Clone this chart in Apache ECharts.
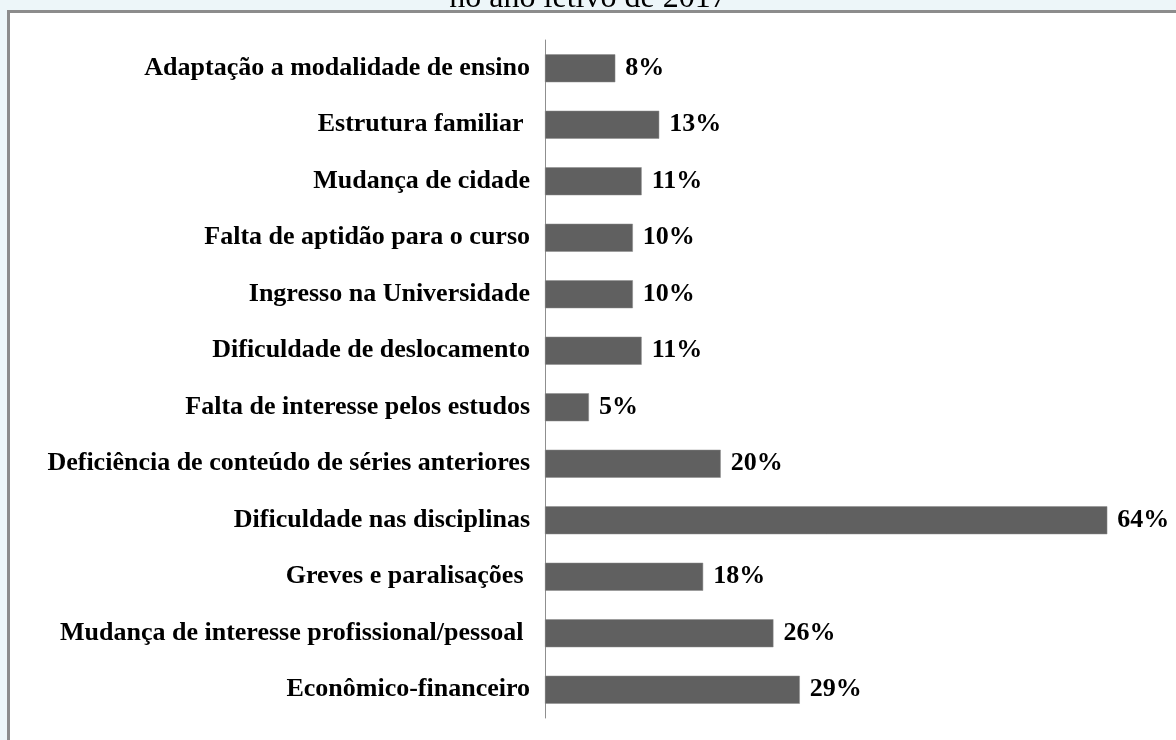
<!DOCTYPE html>
<html>
<head>
<meta charset="utf-8">
<script src="https://cdn.jsdelivr.net/npm/echarts@6/dist/echarts.min.js"></script>
<style>
  html, body { margin: 0; padding: 0; background: #edf6f9; }
  #chart { width: 1176px; height: 740px; }
</style>
</head>
<body>
<div id="chart"></div>
<script>
// motivos de evasão, de cima para baixo
const categories = [
  'Adaptação a modalidade de ensino',
  'Estrutura familiar ',
  'Mudança de cidade',
  'Falta de aptidão para o curso',
  'Ingresso na Universidade',
  'Dificuldade de deslocamento',
  'Falta de interesse pelos estudos',
  'Deficiência de conteúdo de séries anteriores',
  'Dificuldade nas disciplinas',
  'Greves e paralisações ',
  'Mudança de interesse profissional/pessoal ',
  'Econômico-financeiro'
];
const values = [8, 13, 11, 10, 10, 11, 5, 20, 64, 18, 26, 29];
const titleText = 'no ano letivo de 2017';

const labelFont = 'Liberation Serif, Times New Roman, serif';

let chart = echarts.init(document.getElementById('chart'));
chart.setOption({
  backgroundColor: '#edf6f9',
  animation: false,
  title: {
    text: titleText,
    left: 'center',
    top: -22,
    textStyle: {
      fontFamily: labelFont,
      fontWeight: 'normal',
      fontSize: 32,
      color: '#000'
    }
  },
  graphic: [{
    type: 'rect',
    z: -10,
    shape: { x: 8.5, y: 11.5, width: 1200, height: 800 },
    style: { fill: '#fff', stroke: '#8c8c8c', lineWidth: 3 }
  }],
  grid: {
    left: 545,
    top: 40,
    bottom: 22,
    width: 615
  },
  xAxis: {
    type: 'value',
    min: 0,
    max: 70,
    show: false
  },
  yAxis: {
    type: 'category',
    inverse: true,
    data: categories,
    axisTick: { show: false },
    axisLine: { lineStyle: { color: '#8f8f8f', width: 1 } },
    axisLabel: {
      margin: 15,
      fontFamily: labelFont,
      fontWeight: 'bold',
      fontSize: 26,
      color: '#000'
    }
  },
  series: [{
    type: 'bar',
    data: values,
    barWidth: 28,
    itemStyle: { color: '#606060', borderColor: '#8a8a8a', borderWidth: 0.5 },
    label: {
      show: true,
      position: 'right',
      distance: 10,
      formatter: '{c}%',
      fontFamily: labelFont,
      fontWeight: 'bold',
      fontSize: 26,
      color: '#000'
    }
  }]
});
</script>
</body>
</html>
